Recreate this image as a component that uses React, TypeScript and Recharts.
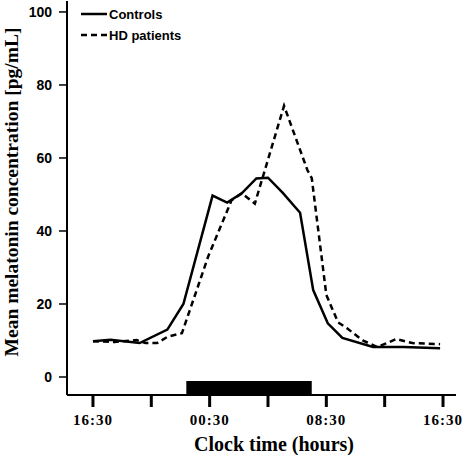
import { Legend, Line, LineChart, ReferenceArea, XAxis, YAxis } from 'recharts';

// hours after 16:30
const controlsHours = [0, 1.2, 3.2, 5.1, 6.2, 8.2, 9.2, 10.2, 11.2, 12.0, 13.0, 14.2, 15.1, 16.1, 17.1, 19.2, 21.3, 23.8];
const controlsValues = [9.8, 10.2, 9.3, 13, 20, 49.7, 47.8, 50.3, 54.4, 54.6, 50.5, 45, 23.8, 14.7, 10.7, 8.2, 8.2, 7.9];

const hdHours = [0, 1.5, 3.0, 3.6, 4.4, 5.1, 6.1, 7.9, 9.5, 10.2, 11.1, 13.1, 14.7, 15.0, 16.0, 16.8, 17.4, 18.5, 19.5, 20.8, 21.9, 23.8];
const hdValues = [9.8, 9.6, 10.1, 9.3, 9.3, 11, 12, 33, 48.4, 50.3, 47.5, 74.3, 56.7, 54.5, 22.5, 15, 13.4, 10, 8.2, 10.4, 9.3, 9];

const xTicks = [0, 4, 8, 12, 16, 20, 24];
const xTickLabels = ['16:30', '', '00:30', '', '08:30', '', '16:30'];
const yTicks = [0, 20, 40, 60, 80, 100];

// dark period (hours after 16:30)
const darkStart = 6.4;
const darkEnd = 15;

const series = [
  { name: 'Controls', hours: controlsHours, values: controlsValues, dash: undefined as string | undefined },
  { name: 'HD patients', hours: hdHours, values: hdValues, dash: '6 4' },
];

const toRows = (hours: number[], values: number[]) => hours.map((t, i) => ({ t, v: values[i] }));

const serif = '"Liberation Serif", "Times New Roman", serif';
const sans = '"Liberation Sans", Arial, sans-serif';

function LegendBox() {
  return (
    <svg width={130} height={48}>
      {series.map((s, i) => (
        <g key={s.name}>
          <line x1={1} x2={27} y1={14 + i * 21} y2={14 + i * 21} stroke="#000" strokeWidth={2.5} strokeDasharray={s.dash} />
          <text x={29} y={19 + i * 21} fontFamily={sans} fontWeight="bold" fontSize={13} fill="#000">
            {s.name}
          </text>
        </g>
      ))}
    </svg>
  );
}

export default function App() {
  return (
    <div style={{ position: 'absolute', left: 0, top: 0, width: 465, height: 455, background: '#fff' }}>
      <LineChart width={465} height={455} margin={{ top: 1, right: 9, bottom: 0, left: 0 }}>
        <XAxis
          dataKey="t"
          type="number"
          domain={[-1.78, 24.89]}
          ticks={xTicks}
          tickFormatter={(v: number) => xTickLabels[xTicks.indexOf(v)] ?? ''}
          interval={0}
          height={60}
          axisLine={{ stroke: '#000', strokeWidth: 2 }}
          tickLine={{ stroke: '#000', strokeWidth: 3 }}
          tickSize={12}
          tickMargin={7}
          tick={{ fill: '#000', fontSize: 15, fontWeight: 'bold', fontFamily: serif, letterSpacing: 1 }}
          label={() => (
            <text x={274} y={451} textAnchor="middle" fontFamily={serif} fontWeight="bold" fontSize={20} fill="#000">
              Clock time (hours)
            </text>
          )}
        />
        <YAxis
          type="number"
          domain={[-4.93, 103]}
          ticks={yTicks}
          interval={0}
          width={67}
          axisLine={{ stroke: '#000', strokeWidth: 2 }}
          tickLine={{ stroke: '#000', strokeWidth: 1.5 }}
          tickSize={8}
          tickMargin={7}
          tick={{ fill: '#000', fontSize: 14, fontWeight: 'bold', fontFamily: sans }}
          label={() => (
            <text
              transform="translate(18,192) rotate(-90)"
              textAnchor="middle"
              fontFamily={serif}
              fontWeight="bold"
              fontSize={19.5}
              fill="#000"
            >
              Mean melatonin concentration [pg/mL]
            </text>
          )}
        />
        <ReferenceArea x1={darkStart} x2={darkEnd} y1={-4.93} y2={-1.1} fill="#000" fillOpacity={1} stroke="none" />
        {series.map((s) => (
          <Line
            key={s.name}
            name={s.name}
            data={toRows(s.hours, s.values)}
            dataKey="v"
            type="linear"
            stroke="#000"
            strokeWidth={2.5}
            strokeDasharray={s.dash}
            dot={false}
            activeDot={false}
            isAnimationActive={false}
          />
        ))}
        <Legend
          layout="horizontal"
          verticalAlign="middle"
          align="center"
          wrapperStyle={{ left: 80, top: 0, width: 130, height: 48 }}
          content={() => <LegendBox />}
        />
      </LineChart>
    </div>
  );
}
